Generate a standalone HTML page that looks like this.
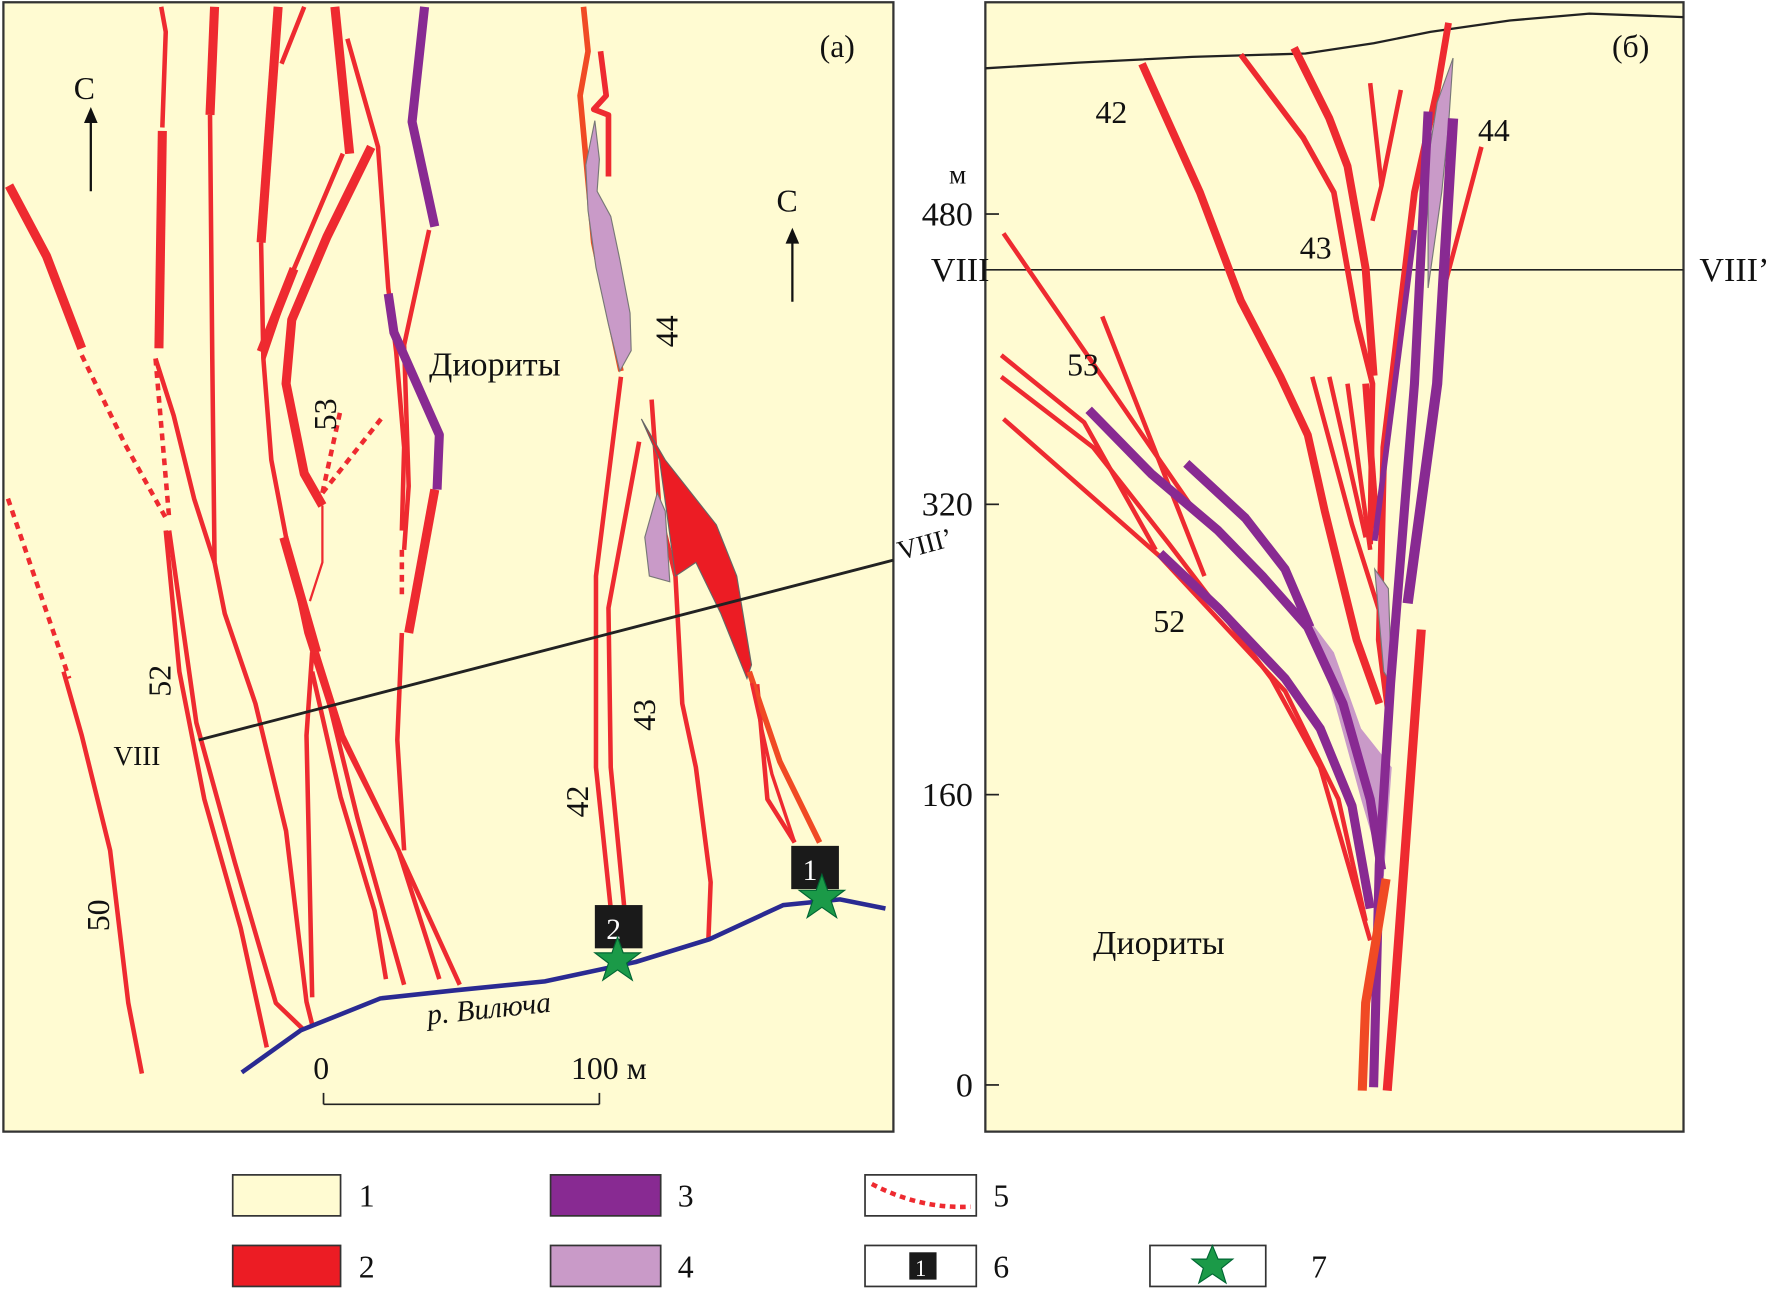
<!DOCTYPE html>
<html><head><meta charset="utf-8"><style>
html,body{margin:0;padding:0;background:#fff;}
svg{display:block;}
text{font-family:"Liberation Serif",serif;fill:#111;}
</style></head><body>
<svg id="fig" width="1780" height="1291" viewBox="0 0 1568 1134" preserveAspectRatio="none" xmlns="http://www.w3.org/2000/svg">
<g>
<rect x="3" y="2" width="784" height="992" fill="#fffbd2" stroke="#333" stroke-width="2"/>
<g fill="none" stroke="#ee2a30" stroke-linejoin="round">
 <path d="M8,163 L41,225 L72,306" stroke-width="8"/>
 <path d="M72,312 L110,390 L146,455" stroke-width="4" stroke-dasharray="6,5"/>
 <path d="M142,6 L146,28 L143,112" stroke-width="4"/>
 <path d="M143,115 L140,306" stroke-width="8"/>
 <path d="M137,315 L149,455" stroke-width="4" stroke-dasharray="6,5"/>
 <path d="M137,315 L153,365 L171,438 L189,494" stroke-width="4"/>
 <path d="M189,6 L185,101" stroke-width="8"/>
 <path d="M185,101 L187,315 L189,494 L198,539 L225,618 L252,730 L270,880 L275,900" stroke-width="4"/>
 <path d="M245,6 L230,213" stroke-width="8"/>
 <path d="M230,213 L232,315 L239,404 L252,472 L270,556 L297,640 L351,747 L405,865" stroke-width="4"/>
 <path d="M268,6 L248,56" stroke-width="4"/>
 <path d="M295,6 L308,135" stroke-width="8"/>
 <path d="M306,34 L333,129 L342,253 L349,309 L356,393 L354,466" stroke-width="4"/>
 <path d="M354,483 L354,522" stroke-width="4" stroke-dasharray="6,5"/>
 <path d="M302,135 L259,236 L232,315" stroke-width="4"/>
 <path d="M259,236 L230,309" stroke-width="8"/>
 <path d="M327,129 L288,208 L257,281 L252,337 L268,416 L284,444" stroke-width="8"/>
 <path d="M284,433 L300,360 M284,433 L338,365" stroke-width="4" stroke-dasharray="6,5"/>
 <path d="M284,444 L284,494 L273,528" stroke-width="2"/>
 <path d="M250,472 L279,573" stroke-width="8"/>
 <path d="M275,573 L270,646 L275,876" stroke-width="4"/>
 <path d="M279,573 L315,719 L356,865" stroke-width="4"/>
 <path d="M279,573 L302,646 L351,747 L387,860" stroke-width="4"/>
 <path d="M275,590 L300,700 L330,800 L340,860" stroke-width="4"/>
 <path d="M378,202 L356,303 L360,427 L356,483" stroke-width="4"/>
 <path d="M383,430 L360,556" stroke-width="8"/>
 <path d="M354,556 L350,650 L356,747" stroke-width="4"/>
 <path d="M146,466 L158,590 L180,702 L212,815 L235,920" stroke-width="4"/>
 <path d="M149,466 L173,635 L207,758 L243,881 L268,905" stroke-width="4"/>
 <path d="M7,438 L61,596" stroke-width="4" stroke-dasharray="6,5"/>
 <path d="M56,590 L72,646 L97,747 L113,881 L125,943" stroke-width="4"/>
 <path d="M529,45 L534,84 L523,96 L536,101 L536,155" stroke-width="5"/>
 <path d="M547,331 L525,506 L525,674 L538,798" stroke-width="4"/>
 <path d="M563,388 L536,534 L538,674 L550,798" stroke-width="4"/>
 <path d="M574,351 L581,449 L595,506 L601,618 L613,674 L626,775 L624,826" stroke-width="4"/>
 <path d="M667,601 L676,702 L700,740" stroke-width="4"/>
</g>
<path d="M514,6 L518,45 L511,84 L523,213 L547,326" fill="none" stroke="#f04a24" stroke-width="5"/>
<path d="M524,106 L528,140 L526,168 L538,190 L546,228 L555,275 L556,308 L546,326 L536,285 L525,235 L518,185 L516,145 Z" fill="#c99ac8" stroke="#777" stroke-width="1"/>
<path d="M565,368 L586,404 L631,461 L649,506 L662,584 L658,596 L635,539 L613,494 L604,500 L595,506 L581,404 Z" fill="#ec1c24" stroke="#666" stroke-width="1"/>
<path d="M579,433 L568,472 L572,506 L590,511 L586,449 Z" fill="#c99ac8" stroke="#777" stroke-width="1"/>
<path d="M660,590 L687,669 L722,740" fill="none" stroke="#f04a24" stroke-width="5"/>
<path d="M662,600 L680,680 L700,740" fill="none" stroke="#ee2a30" stroke-width="3"/>
<g fill="none" stroke="#882a92" stroke-width="8" stroke-linejoin="round">
 <path d="M374,6 L363,107 L383,199"/>
 <path d="M342,258 L347,292 L387,382 L385,430"/>
</g>
<path d="M213,942 L265,905 L335,877 L400,870 L480,862 L560,845 L625,825 L690,795 L740,790 L780,798" fill="none" stroke="#2a2a92" stroke-width="4"/>
<line x1="175" y1="650" x2="787" y2="492" stroke="#222" stroke-width="2.5"/>
<text x="100" y="672" font-size="24">VIII</text>
<text x="793" y="492" font-size="24" transform="rotate(-15 793 492)">VIII’</text>
<text x="378" y="330" font-size="30">Диориты</text>
<text x="65" y="87" font-size="28">С</text>
<line x1="80" y1="168" x2="80" y2="102" stroke="#111" stroke-width="2"/><path d="M74,108 L80,94 L86,108Z" fill="#111"/>
<text x="684" y="186" font-size="28">С</text>
<line x1="698" y1="265" x2="698" y2="208" stroke="#111" stroke-width="2"/><path d="M692,214 L698,200 L704,214Z" fill="#111"/>
<g font-size="28">
 <text transform="translate(296,378) rotate(-90)">53</text>
 <text transform="translate(150,612) rotate(-90)">52</text>
 <text transform="translate(597,305) rotate(-90)">44</text>
 <text transform="translate(577,642) rotate(-90)">43</text>
 <text transform="translate(518,718) rotate(-90)">42</text>
 <text transform="translate(96,818) rotate(-90)">50</text>
</g>
<text x="377" y="900" font-size="26" font-style="italic" transform="rotate(-6 377 900)">р. Вилюча</text>
<g stroke="#222" stroke-width="1.5">
 <line x1="285" y1="970" x2="528" y2="970"/><line x1="285" y1="960" x2="285" y2="970"/><line x1="528" y1="960" x2="528" y2="970"/>
</g>
<text x="276" y="948" font-size="28">0</text>
<text x="503" y="948" font-size="28">100 м</text>
<g>
 <rect x="697" y="743" width="42" height="38" fill="#1a1a1a"/><text x="707" y="773" font-size="26" style="fill:#fff">1</text>
 <path d="M724,768 L729,782 L744,782 L732,791 L737,806 L724,797 L711,806 L716,791 L704,782 L719,782Z" fill="#1b9a48" stroke="#063" stroke-width="1"/>
</g>
<g>
 <rect x="524" y="795" width="42" height="38" fill="#1a1a1a"/><text x="534" y="825" font-size="26" style="fill:#fff">2</text>
 <path d="M544,823 L549,837 L564,837 L552,846 L557,861 L544,852 L531,861 L536,846 L524,837 L539,837Z" fill="#1b9a48" stroke="#063" stroke-width="1"/>
</g>
<text x="722" y="50" font-size="28">(а)</text>
</g>

<g>
<rect x="868" y="2" width="615" height="992" fill="#fffbd2" stroke="#333" stroke-width="2"/>
<path d="M868,60 L950,55 L1050,50 L1150,47 L1210,38 L1260,28 L1330,18 L1400,12 L1483,15" fill="none" stroke="#222" stroke-width="2"/>
<line x1="868" y1="237" x2="1483" y2="237" stroke="#222" stroke-width="1.5"/>
<path d="M1156,548 L1175,573 L1199,640 L1226,674 L1219,770 L1199,702 L1179,629 Z" fill="#c99ac8"/>
<g fill="none" stroke="#ee2a30" stroke-linejoin="round">
 <path d="M1006,56 L1057,169 L1093,264 L1128,331 L1152,382 L1167,449 L1195,562 L1215,618" stroke-width="7"/>
 <path d="M1093,48 L1148,121 L1175,169 L1195,281 L1209,337 L1207,478" stroke-width="5"/>
 <path d="M1140,42 L1171,104 L1187,146 L1199,213 L1203,236 L1210,330" stroke-width="7"/>
 <path d="M1207,73 L1217,163" stroke-width="4"/>
 <path d="M1234,79 L1217,163 L1209,194" stroke-width="4"/>
 <path d="M1276,20 L1266,79 L1246,169 L1219,393 L1215,562 L1223,624" stroke-width="6"/>
 <path d="M1305,129 L1270,261" stroke-width="4"/>
 <path d="M884,205 L1049,444" stroke-width="4"/>
 <path d="M971,278 L1061,506" stroke-width="4"/>
 <path d="M882,312 L955,371 L1018,483" stroke-width="4"/>
 <path d="M882,331 L963,393 L1030,478 L1120,596 L1163,674 L1207,826" stroke-width="4"/>
 <path d="M884,368 L1022,489 L1132,607 L1179,702 L1203,809" stroke-width="4"/>
 <path d="M1156,331 L1191,461 L1223,562" stroke-width="4"/>
 <path d="M1171,331 L1203,472" stroke-width="4"/>
 <path d="M1187,337 L1207,483" stroke-width="4"/>
 <path d="M1203,337 L1213,470" stroke-width="6"/>
 <path d="M1252,553 L1228,881 L1222,958" stroke-width="8"/>
</g>
<path d="M1280,51 L1276,110 L1270,169 L1258,253 L1258,140 L1266,90 Z" fill="#c99ac8" stroke="#777" stroke-width="1"/>
<path d="M1211,500 L1223,517 L1226,601 L1219,590 Z" fill="#c99ac8" stroke="#777" stroke-width="1"/>
<g fill="none" stroke="#882a92" stroke-linejoin="round">
 <path d="M959,360 L1014,416 L1073,466 L1112,506 L1152,551 L1183,618 L1207,702 L1217,764" stroke-width="8"/>
 <path d="M1045,407 L1097,455 L1132,500 L1154,551" stroke-width="8"/>
 <path d="M1022,486 L1073,534 L1132,596 L1163,640 L1191,708 L1207,798" stroke-width="8"/>
 <path d="M1258,98 L1246,337 L1225,600 L1215,760 L1210,955" stroke-width="8"/>
 <path d="M1280,104 L1266,337 L1240,530" stroke-width="9"/>
 <path d="M1246,202 L1211,475" stroke-width="5"/>
</g>
<path d="M1221,772 L1203,881 L1200,958" fill="none" stroke="#f04a24" stroke-width="8"/>
<g font-size="28">
 <text x="965" y="108">42</text><text x="1302" y="124">44</text><text x="1145" y="227">43</text>
 <text x="940" y="330">53</text><text x="1016" y="555">52</text>
</g>
<text x="963" y="838" font-size="30">Диориты</text>
<text x="1420" y="50" font-size="28">(б)</text>
<text x="820" y="247" font-size="30">VIII</text>
<text x="1497" y="247" font-size="30">VIII’</text>
<text x="836" y="161" font-size="24">м</text>
<g id="depth-axis"></g>
</g>

<g font-size="28">
 <g><rect x="205" y="1032" width="95" height="36" fill="#fffbd2" stroke="#333" stroke-width="1.5"/><text x="316" y="1060">1</text></g>
 <g><rect x="205" y="1094" width="95" height="36" fill="#ec1c24" stroke="#333" stroke-width="1.5"/><text x="316" y="1122">2</text></g>
 <g><rect x="485" y="1032" width="97" height="36" fill="#882a92" stroke="#333" stroke-width="1.5"/><text x="597" y="1060">3</text></g>
 <g><rect x="485" y="1094" width="97" height="36" fill="#c99ac8" stroke="#333" stroke-width="1.5"/><text x="597" y="1122">4</text></g>
 <g><rect x="762" y="1032" width="98" height="36" fill="#fff" stroke="#333" stroke-width="1.5"/><path d="M768,1040 Q810,1062 855,1060" fill="none" stroke="#ee2a30" stroke-width="4" stroke-dasharray="5,4"/><text x="875" y="1060">5</text></g>
 <g><rect x="762" y="1094" width="98" height="36" fill="#fff" stroke="#333" stroke-width="1.5"/><rect x="801" y="1100" width="24" height="24" fill="#1a1a1a"/><text x="806" y="1121" font-size="20" style="fill:#fff">1</text><text x="875" y="1122">6</text></g>
 <g><rect x="1013" y="1094" width="102" height="36" fill="#fff" stroke="#333" stroke-width="1.5"/><path d="M1068,1094 L1073,1106 L1086,1106 L1076,1114 L1080,1127 L1068,1119 L1056,1127 L1060,1114 L1050,1106 L1063,1106Z" fill="#1b9a48" stroke="#063"/><text x="1155" y="1122">7</text></g>
</g>
</svg>
<script>
const depthTicks = [0, 160, 320, 480];
const depthLabels = ["0", "160", "320", "480"];
function yDepth(v){ return 953 - v * (953 - 188) / 480; }
const ax = document.getElementById('depth-axis');
const NS = 'http://www.w3.org/2000/svg';
depthTicks.forEach((v, i) => {
  const y = yDepth(v);
  const l = document.createElementNS(NS, 'line');
  l.setAttribute('x1', 868); l.setAttribute('x2', 880);
  l.setAttribute('y1', y); l.setAttribute('y2', y);
  l.setAttribute('stroke', '#222'); l.setAttribute('stroke-width', '1.5');
  
  
  ax.appendChild(l);
  const t = document.createElementNS(NS, 'text');
  t.setAttribute('x', 857); t.setAttribute('y', y + 10);
  t.setAttribute('text-anchor', 'end'); t.setAttribute('font-size', '30');
  t.textContent = depthLabels[i];
  
  
  ax.appendChild(t);
});
</script>
</body></html>
